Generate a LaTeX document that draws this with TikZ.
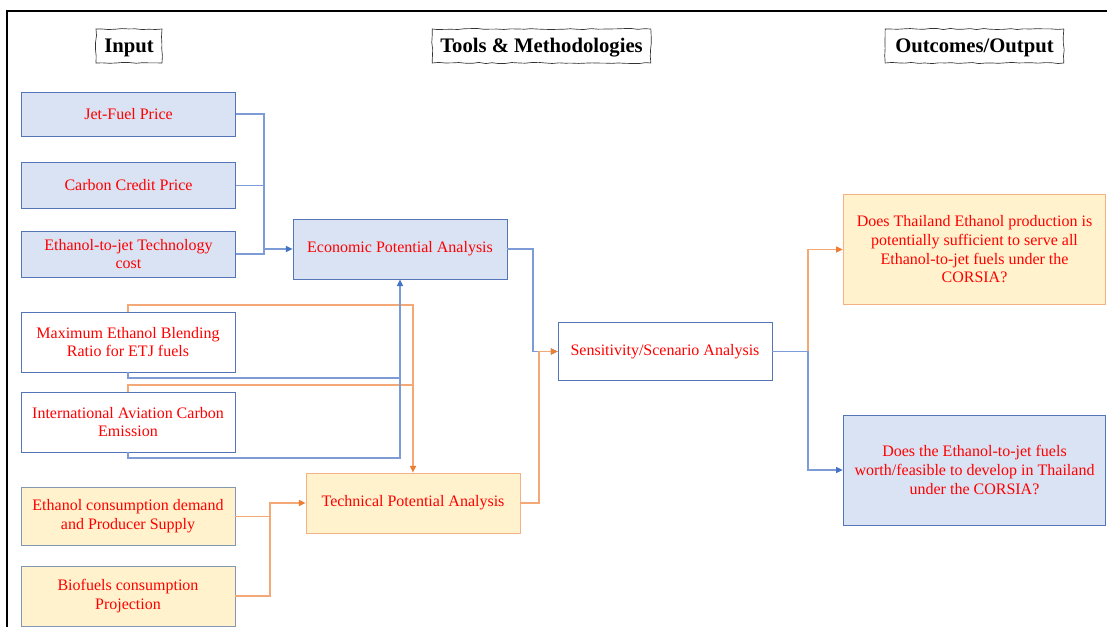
\documentclass[tikz,border=0pt]{standalone}
\usepackage{fontspec}
\setmainfont{Liberation Serif}
\usepackage{tikz}
\usetikzlibrary{arrows.meta,decorations.pathmorphing}
\definecolor{boxBlue}{RGB}{218,227,243}
\definecolor{boxOrange}{RGB}{255,242,204}
\definecolor{edgeBlue}{RGB}{84,118,184}
\definecolor{edgeGray}{RGB}{132,151,176}
\definecolor{edgeOrange}{RGB}{244,177,131}
\definecolor{lineBlue}{RGB}{125,155,215}
\definecolor{lineOrange}{RGB}{244,168,118}
\definecolor{tipBlue}{RGB}{68,114,196}
\definecolor{tipOrange}{RGB}{237,125,49}
\tikzstyle{labeledBox}=[shape = rectangle, align = center, inner sep = 2pt, text = red, font = \fontsize{12}{14}\selectfont, line width = 0.6pt]
\tikzstyle{blueBox}=[labeledBox, draw = edgeBlue, fill = boxBlue]
\tikzstyle{whiteBox}=[labeledBox, draw = edgeBlue, fill = white]
\tikzstyle{orangeBox}=[labeledBox, draw = edgeGray, fill = boxOrange]
\tikzstyle{orangeTool}=[labeledBox, draw = edgeOrange, fill = boxOrange]
\tikzstyle{headBox}=[shape = rectangle, draw = black!80, line width = 0.5pt, minimum height = 25.5pt, text height = 12pt, text depth = 2pt, inner sep = 2pt, font = \fontsize{15.5}{18}\selectfont\bfseries, decorate, decoration = {random steps, segment length = 5pt, amplitude = 0.45pt}]

\begin{document}
\begin{tikzpicture}[x = 0.75pt, y = -0.75pt]
\pgfmathsetseed{7}
\tikzstyle{blueLine}=[draw = lineBlue, line width = 0.9pt]
\tikzstyle{orangeLine}=[draw = lineOrange, line width = 0.9pt]
\tikzstyle{blueTip}=[-{Triangle[length = 5pt, width = 4.5pt, color = tipBlue]}]
\tikzstyle{orangeTip}=[-{Triangle[length = 5pt, width = 4.5pt, color = tipOrange]}]
\useasboundingbox (0,0) rectangle (1107,627);
\draw[line width = 1.6pt] (7,627) -- (7,11) -- (1107,11);
\node[headBox, minimum width = 49.5pt] (hIn) at (129,46) {Input};
\node[headBox, minimum width = 164pt] (hTool) at (541.5,46) {Tools \& Methodologies};
\node[headBox, minimum width = 134pt] (hOut) at (974.5,46) {Outcomes/Output};
\node[blueBox, minimum width = 160pt, minimum height = 33pt] (i1) at (128.5,114) {Jet-Fuel Price};
\node[blueBox, minimum width = 160pt, minimum height = 34pt] (i2) at (128.5,185.5) {Carbon Credit Price};
\node[blueBox, minimum width = 160pt, minimum height = 34.5pt] (i3) at (128.5,254) {Ethanol-to-jet Technology\\cost};
\node[whiteBox, minimum width = 160.5pt, minimum height = 45pt] (i4) at (128,342) {Maximum Ethanol Blending\\Ratio for ETJ fuels};
\node[whiteBox, minimum width = 160.5pt, minimum height = 45pt] (i5) at (128,422) {International Aviation Carbon\\Emission};
\node[orangeBox, minimum width = 160.5pt, minimum height = 44pt] (i6) at (128,516.5) {Ethanol consumption demand\\and Producer Supply};
\node[orangeBox, minimum width = 160.5pt, minimum height = 45pt] (i7) at (128,596) {Biofuels consumption\\Projection};
\node[blueBox, minimum width = 160.5pt, minimum height = 45pt] (t1) at (400,249) {Economic Potential Analysis};
\node[orangeTool, minimum width = 160.5pt, minimum height = 45pt] (t2) at (413,503) {Technical Potential Analysis};
\node[whiteBox, minimum width = 160.5pt, minimum height = 44pt] (t3) at (665,351.5) {Sensitivity/Scenario Analysis};
\node[orangeTool, minimum width = 197pt, minimum height = 83pt] (o1) at (974.5,249.5) {Does Thailand Ethanol production is\\potentially sufficient to serve all\\Ethanol-to-jet fuels under the\\CORSIA?};
\node[blueBox, minimum width = 197pt, minimum height = 82.5pt] (o2) at (974.5,470) {Does the Ethanol-to-jet fuels\\worth/feasible to develop in Thailand\\under the CORSIA?};
\coordinate (j1) at (264,249);
\coordinate (j2) at (400,378);
\coordinate (j3) at (400,458);
\coordinate (j4) at (533,351.5);
\coordinate (j5) at (808,351.5);
\coordinate (j6) at (413,305);
\coordinate (j7) at (413,385);
\coordinate (j8) at (270,503);
\coordinate (j9) at (539,351.5);
\draw[blueLine] (i1.east) -| (j1);
\draw[blueLine] (i2.east) -| (j1);
\draw[blueLine] (i3.east) -| (j1);
\draw[blueLine, blueTip] (j1) -- (t1.west);
\draw[orangeLine] (i5.north) |- (j7);
\draw[orangeLine, orangeTip] (i4.north) |- (j6) -- (t2.north);
\draw[blueLine] (i5.south) |- (j3) -- (j2);
\draw[blueLine, blueTip] (i4.south) |- (j2) -- (t1.south);
\draw[orangeLine] (i7.east) -| (j8);
\draw[orangeLine, orangeTip] (i6.east) -| (j8) -- (t2.west);
\draw[blueLine, blueTip] (t1.east) -| (j4) -- (t3.west);
\draw[orangeLine, orangeTip] (t2.east) -| (j9) -- (t3.west);
\draw[orangeLine, orangeTip] (t3.east) -- (j5) |- (o1.west);
\draw[blueLine, blueTip] (t3.east) -- (j5) |- (o2.west);
\end{tikzpicture}
\end{document}
